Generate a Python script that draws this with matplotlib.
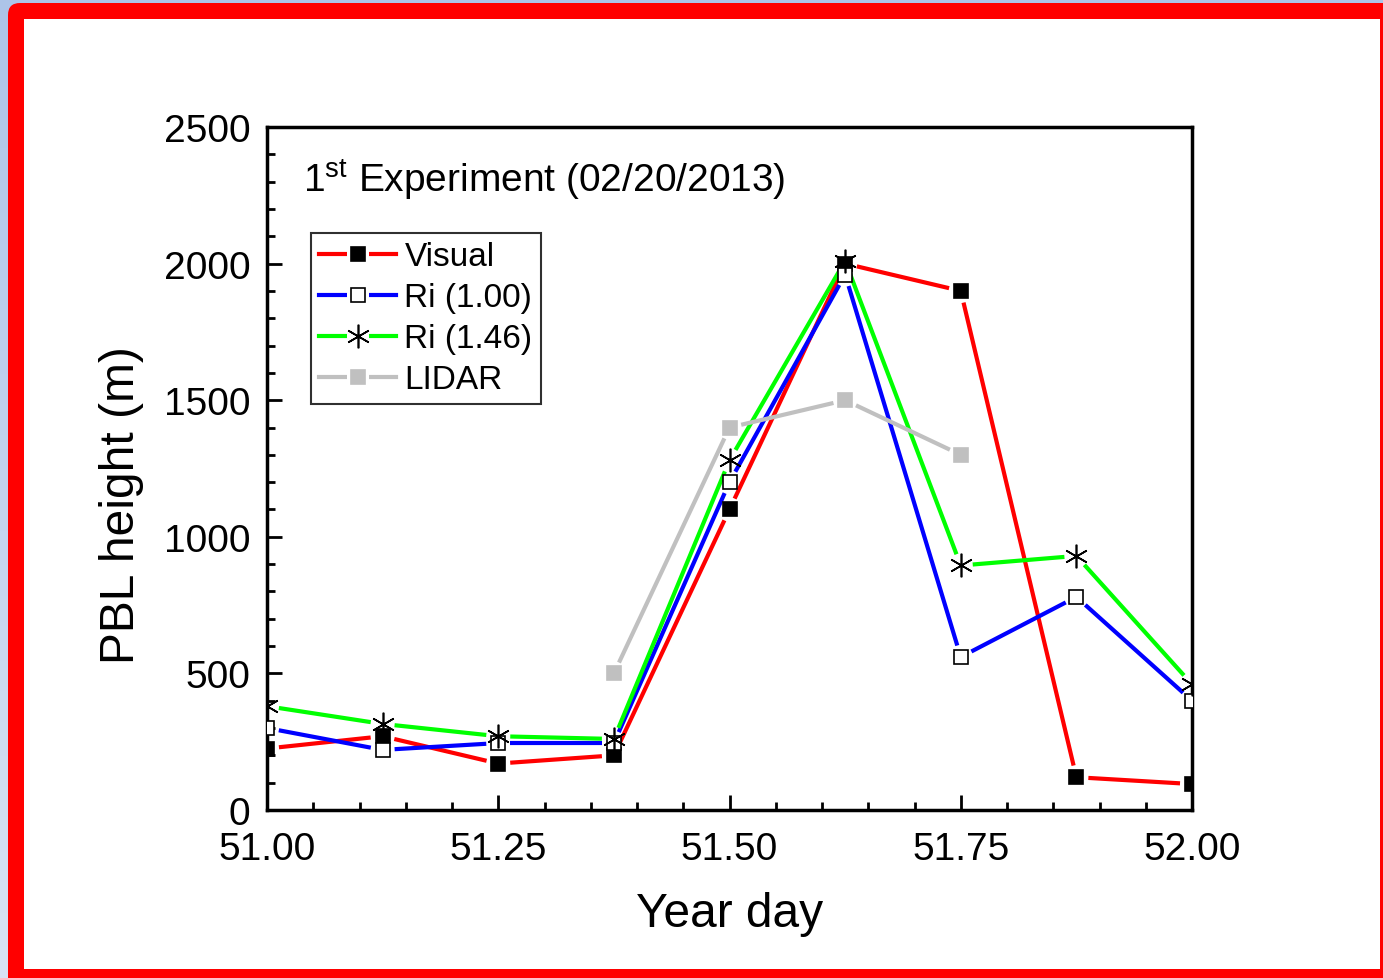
import matplotlib
matplotlib.use("Agg")
import matplotlib.pyplot as plt
import numpy as np
from matplotlib.lines import Line2D
from matplotlib.patches import FancyBboxPatch, Rectangle
from matplotlib.legend_handler import HandlerTuple
from matplotlib.ticker import MultipleLocator, FormatStrFormatter

plt.rcParams['font.family'] = ['Liberation Sans', 'DejaVu Sans']
plt.rcParams['mathtext.fontset'] = 'custom'
plt.rcParams['mathtext.rm'] = 'Liberation Sans'

# year day of each sounding
day = [51.0, 51.125, 51.25, 51.375, 51.5, 51.625, 51.75, 51.875, 52.0]
visual = [225, 270, 170, 200, 1100, 2000, 1900, 120, 95]
ri_100 = [300, 220, 245, 245, 1200, 1960, 560, 780, 400]
ri_146 = [380, 315, 270, 260, 1280, 2010, 895, 930, 460]
lidar_day = [51.375, 51.5, 51.625, 51.75]
lidar = [500, 1400, 1500, 1300]

W, H, DPI = 1383, 979, 100
fig = plt.figure(figsize=(W / DPI, H / DPI), dpi=DPI)

# slide background: blue gradient, red rounded frame, white panel (pixel units)
bg = fig.add_axes([0, 0, 1, 1], zorder=-10)
grad = np.linspace(0, 1, 256).reshape(-1, 1)
top = np.array([0.68, 0.77, 0.91])
bot = np.array([0.85, 0.89, 0.96])
img = top + (bot - top) * grad[:, :, None]
bg.imshow(img, aspect='auto', extent=[0, W, 0, H], origin='upper')
bg.add_patch(FancyBboxPatch((8, -30), W + 30, H - 4 + 30,
                            boxstyle="round,pad=0,rounding_size=12",
                            facecolor='#ff0000', edgecolor='none'))
bg.add_patch(Rectangle((24, H - 970), 1380 - 24, 970 - 20,
                       facecolor='white', edgecolor='none'))
bg.set_xlim(0, W)
bg.set_ylim(0, H)
bg.axis('off')

ax = fig.add_axes([267 / W, 1 - 811 / H, (1192 - 267) / W, (811 - 128) / H])
ax.set_facecolor('none')
ax.set_xlim(51.0, 52.0)
ax.set_ylim(0, 2500)


def gapped(x, y, color, gap=12):
    # Origin-style lines that stop short of each symbol
    pts = ax.transData.transform(np.column_stack([x, y]))
    inv = ax.transData.inverted()
    for p, q in zip(pts[:-1], pts[1:]):
        d = q - p
        u = d / np.hypot(*d)
        a = inv.transform(p + u * gap)
        b = inv.transform(q - u * gap)
        ax.plot([a[0], b[0]], [a[1], b[1]], color=color, lw=3,
                solid_capstyle='butt', zorder=2)


star = (6, 2, 0)
series = [
    (day, visual, '#ff0000', dict(marker='s', ms=10, mfc='black', mec='black'), 'Visual'),
    (day, ri_100, '#0000ff', dict(marker='s', ms=10, mfc='white', mec='black'), 'Ri (1.00)'),
    (day, ri_146, '#00ff00', dict(marker=star, ms=17, mfc='none', mec='black'), 'Ri (1.46)'),
    (lidar_day, lidar, '#c0c0c0', dict(marker='s', ms=10, mfc='#c0c0c0', mec='#c0c0c0'), 'LIDAR'),
]

handles, labels = [], []
for x, y, c, mk, name in series:
    gapped(x, y, c)
    ax.plot(x, y, ls='none', mew=1.2, zorder=3, **mk)
    h_line = Line2D([], [], color=c, lw=3)
    h_mask = Line2D([], [], ls='none', marker='s', ms=16, mfc='white', mew=0)
    h_mark = Line2D([], [], ls='none', mew=1.2, **mk)
    handles.append((h_line, h_mask, h_mark))
    labels.append(name)

leg = ax.legend(handles, labels, handler_map={tuple: HandlerTuple(ndivide=1, pad=0)},
                loc='upper left', bbox_to_anchor=(0.0476, 0.8448), borderaxespad=0,
                fontsize=24, frameon=True, fancybox=False, edgecolor='#303030',
                framealpha=1, handlelength=2.3, handletextpad=0.25,
                labelspacing=0.3, borderpad=0.25)
leg.get_frame().set_linewidth(1.5)

ax.text(0.039, 0.906, r'1$^{\mathrm{st}}$ Experiment (02/20/2013)',
        transform=ax.transAxes, fontsize=28, va='baseline', ha='left')

ax.xaxis.set_major_locator(MultipleLocator(0.25))
ax.xaxis.set_minor_locator(MultipleLocator(0.05))
ax.xaxis.set_major_formatter(FormatStrFormatter('%.2f'))
ax.yaxis.set_major_locator(MultipleLocator(500))
ax.yaxis.set_minor_locator(MultipleLocator(100))
ax.tick_params(which='both', direction='in', top=False, right=False,
               labelsize=28, width=2)
ax.tick_params(which='major', length=11)
ax.tick_params(which='minor', length=6)
ax.tick_params(axis='x', pad=15)
ax.tick_params(axis='y', pad=12)
for s in ax.spines.values():
    s.set_linewidth(2.5)

ax.set_xlabel('Year day', fontsize=34.5)
ax.set_ylabel('PBL height (m)', fontsize=34.5)
ax.xaxis.set_label_coords(0.5, -0.118)
ax.yaxis.set_label_coords(-0.1326, 0.448)

fig.savefig('out.png', dpi=DPI)
